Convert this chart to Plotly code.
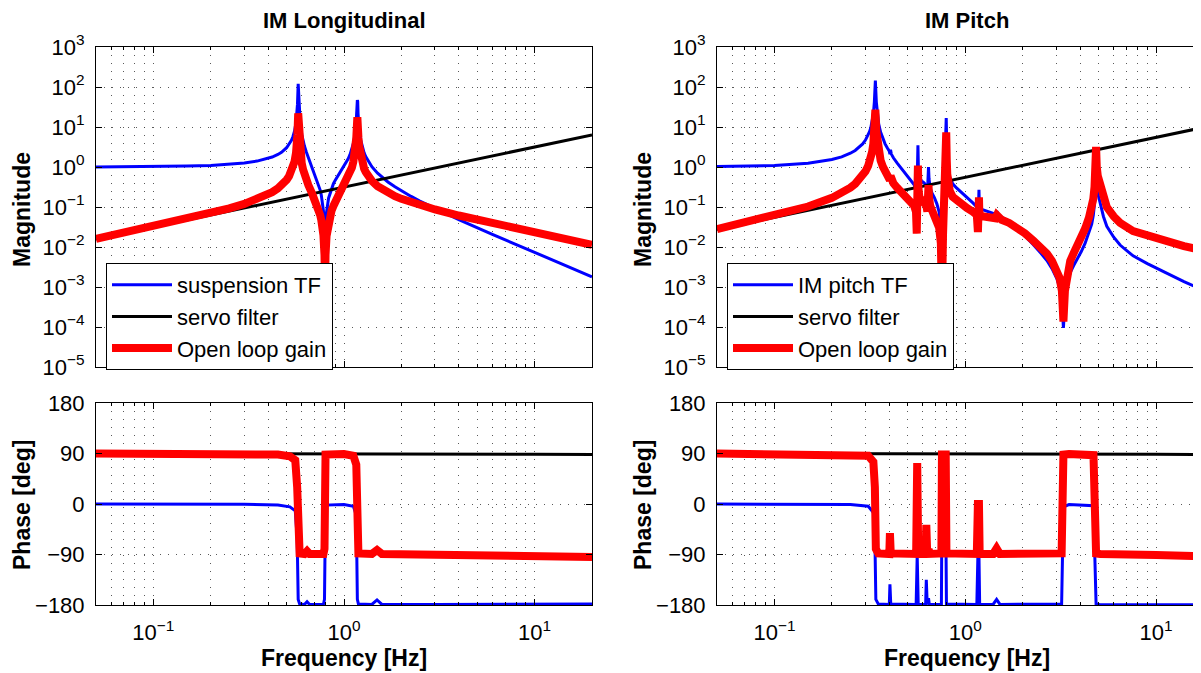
import math
import plotly.graph_objects as go

# The page body has an 8 px margin, so the figure is 1193x665 placed at (8, 8).
OFF = 8
W, H = 1201 - OFF, 673 - OFF
FONT = "Liberation Sans, Arial, Helvetica, sans-serif"

# ---------------- IM Longitudinal (left) ----------------
long_f = [0.05, 0.1, 0.15, 0.2, 0.25, 0.3, 0.35, 0.4, 0.42, 0.45, 0.47, 0.5, 0.515, 0.53, 0.54,
          0.55, 0.56, 0.565, 0.57, 0.575, 0.58, 0.585, 0.59, 0.6, 0.61, 0.62, 0.635, 0.65, 0.68,
          0.70, 0.72, 0.735, 0.75, 0.76, 0.77, 0.78, 0.79, 0.795, 0.80, 0.81, 0.83, 0.86, 0.88,
          0.9, 0.95, 0.975, 1.0, 1.05, 1.075, 1.1, 1.12, 1.13, 1.15, 1.16, 1.165, 1.17, 1.175,
          1.18, 1.185, 1.19, 1.2, 1.22, 1.25, 1.275, 1.3, 1.35, 1.4, 1.5, 1.6, 1.7, 1.85, 2.0,
          2.25, 2.5, 3.0, 4.0, 6.0, 10.0, 15.0, 20.0]
long_sus_mag = [1.005, 1.022, 1.052, 1.097, 1.164, 1.26, 1.405, 1.64, 1.772, 2.06, 2.333, 3.03, 3.632, 4.64, 5.787,
                7.85, 12.7, 18.7, 36.7, 120, 35.3, 17.4, 11.35, 6.56, 4.486, 3.34, 2.328, 1.72, 1.01,
                0.7227, 0.507, 0.3765, 0.265, 0.1981, 0.137, 0.08, 0.026, 0.004, 0.025, 0.074, 0.166, 0.296, 0.3823,
                0.47, 0.715, 0.863, 1.04, 1.58, 2.037, 2.78, 3.856, 4.75, 8.65, 14.5, 21.7, 43.7, 47,
                44, 22, 14.7, 8.86, 4.96, 3.0, 2.262, 1.82, 1.3045, 1.02, 0.70, 0.5297, 0.422, 0.3193, 0.253,
                0.1837, 0.141, 0.0915, 0.0485, 0.0207, 0.0073, 0.00324, 0.0018]
long_olg_mag = [0.0159, 0.0323, 0.0499, 0.0693, 0.092, 0.1195, 0.1554, 0.207, 0.2351, 0.292, 0.3465, 0.478, 0.591, 0.777, 0.987,
                1.364, 2.24, 3.33, 6.61, 22, 6.47, 3.22, 2.116, 1.244, 0.865, 0.654, 0.467, 0.353, 0.2176,
                0.1599, 0.1153, 0.0875, 0.0627, 0.0476, 0.0333, 0.0196, 0.0064, 0.001, 0.0064, 0.0189, 0.0435, 0.0805, 0.1063,
                0.1337, 0.2145, 0.266, 0.33, 0.525, 0.692, 0.966, 1.365, 1.696, 3.14, 5.32, 7.99, 16.2, 17.45,
                16.4, 8.24, 5.53, 3.36, 1.91, 1.185, 0.911, 0.747, 0.5565, 0.45, 0.332, 0.2678, 0.227, 0.1867, 0.16,
                0.1306, 0.111, 0.0867, 0.0612, 0.0392, 0.0231, 0.0154, 0.0114]
long_servo_f = [0.05, 0.1, 1.0, 10.0, 20.0]
long_servo_mag = [0.0158, 0.0316, 0.316, 3.16, 6.3]

long_ph_f = [0.05, 0.3, 0.45, 0.52, 0.555, 0.568, 0.575, 0.585, 0.62, 0.64, 0.66, 0.78, 0.79,
             0.795, 0.80, 1.0, 1.12, 1.16, 1.175, 1.19, 1.4, 1.49, 1.58, 3.0, 10.0, 20.0]
long_sus_ph = [0, -0.5, -2, -5, -12, -60, -170, -178, -179, -174, -179, -179, -170,
               -5, -2, -1, -4, -20, -170, -178, -179, -171, -179, -179, -178.5, -178]
long_olg_ph = [90, 89.5, 88, 85, 78, 30, -80, -88, -89, -84, -89, -89, -80,
               85, 88, 89, 86, 70, -80, -88, -89, -82, -89, -90.5, -92, -94.5]
long_servo_ph_f = [0.05, 1.0, 5.0, 10.0, 20.0]
long_servo_ph = [90, 89.9, 89.3, 88.8, 88]

# ---------------- IM Pitch (right) ----------------
pit_f = [0.05, 0.1, 0.15, 0.2, 0.225, 0.25, 0.265, 0.28, 0.29, 0.3, 0.31, 0.315, 0.32, 0.325, 0.33,
         0.334, 0.338, 0.342,
         0.346, 0.352, 0.36, 0.37, 0.38, 0.39, 0.40, 0.403, 0.406, 0.41, 0.42, 0.44, 0.46, 0.48,
         0.5, 0.52, 0.54, 0.552, 0.557, 0.562, 0.565, 0.568, 0.575, 0.59, 0.61, 0.625, 0.633,
         0.638, 0.642, 0.646, 0.655, 0.67, 0.69, 0.71, 0.73, 0.745, 0.755, 0.765, 0.775, 0.785,
         0.79, 0.795, 0.8, 0.805, 0.815, 0.83, 0.86, 0.9, 0.95, 1.02, 1.1, 1.15, 1.165, 1.175,
         1.18, 1.185, 1.2, 1.3, 1.4, 1.44, 1.465, 1.49, 1.55, 1.7, 1.866, 2.05, 2.27, 2.5, 2.68,
         2.85, 3.02, 3.12, 3.21, 3.27, 3.33, 3.41, 3.55, 3.7, 3.85, 4.05, 4.25, 4.45, 4.6, 4.69,
         4.76, 4.81, 4.85, 4.89, 4.95, 5.09, 5.3, 5.52, 6.0, 6.48, 7.58, 9.0, 11.4, 14.0, 17.2, 20.0]
pit_sus_mag = [1.022, 1.096, 1.245, 1.539, 1.796, 2.208, 2.595, 3.19, 3.789, 4.71, 6.3, 7.6, 9.6, 13.3, 21.3,
               42.5, 145, 42,
               20.9, 11.8, 7.44, 5.04, 3.79, 3.02, 2.5, 2.1, 2.7, 2.1, 1.7, 1.25, 0.95, 0.75,
               0.6, 0.46, 0.36, 0.25, 0.07, 1.0, 3.5, 1.0, 0.55, 0.45, 0.4, 0.32, 0.22,
               0.5, 1.0, 0.5, 0.3, 0.22, 0.17, 0.12, 0.075, 0.03, 0.0012, 0.05, 0.25, 1.2,
               3.5, 16.8, 3.5, 1.5, 0.8, 0.55, 0.38, 0.30, 0.24, 0.17, 0.125, 0.10, 0.037, 0.12,
               0.27, 0.12, 0.09, 0.078, 0.07, 0.066, 0.078, 0.066, 0.0563, 0.0428, 0.0302, 0.0195, 0.0116, 0.0069, 0.0046,
               0.00287, 0.00163, 0.00099, 0.00045, 0.000095, 0.00044, 0.00117, 0.0023, 0.00344, 0.0048, 0.0076, 0.0124, 0.022, 0.0375, 0.062,
               0.122, 0.30, 1.2, 0.37, 0.22, 0.129, 0.058, 0.033, 0.0176, 0.0112, 0.006, 0.00384, 0.00215, 0.00136, 0.00089, 0.00067]
pit_olg_mag = [0.0281, 0.0603, 0.1027, 0.169, 0.2222, 0.3036, 0.378, 0.491, 0.604, 0.777, 1.074, 1.317, 1.69, 2.378, 3.866,
               7.81, 27, 7.9,
               3.98, 2.285, 1.473, 1.026, 0.792, 0.648, 0.55, 0.466, 0.603, 0.474, 0.393, 0.3025, 0.240, 0.198,
               0.165, 0.1316, 0.107, 0.0759, 0.0215, 0.309, 1.09, 0.312, 0.174, 0.146, 0.134, 0.110, 0.0766,
               0.1755, 0.353, 0.1777, 0.108, 0.081, 0.0645, 0.0469, 0.0301, 0.0123, 0.0005, 0.021, 0.1066, 0.518,
               1.52, 7.34, 1.54, 0.664, 0.3586, 0.251, 0.18, 0.1485, 0.125, 0.095, 0.0756, 0.063, 0.0237, 0.0775,
               0.175, 0.078, 0.0594, 0.0558, 0.0539, 0.0523, 0.0628, 0.054, 0.048, 0.040, 0.031, 0.022, 0.0145, 0.0095, 0.0068,
               0.0045, 0.0027, 0.0017, 0.0008, 0.000137, 0.0008, 0.0022, 0.0045, 0.007, 0.0102, 0.017, 0.029, 0.054, 0.095, 0.16,
               0.32, 0.8, 3.2, 1.0, 0.6, 0.36, 0.17, 0.10, 0.058, 0.04, 0.025, 0.019, 0.0135, 0.0105, 0.0084, 0.0074]
pit_servo_f = [0.05, 0.1, 1.0, 10.0, 20.0]
pit_servo_mag = [0.0275, 0.055, 0.55, 5.5, 11.0]

pit_ph_f = [0.05, 0.25, 0.31, 0.33, 0.336, 0.34, 0.35, 0.40, 0.403, 0.407, 0.553, 0.56, 0.567,
            0.62, 0.625, 0.632, 0.642, 0.648, 0.655, 0.75, 0.755, 0.79, 0.797, 1.15, 1.165,
            1.18, 1.19, 1.4, 1.46, 1.52, 3.2, 3.27, 3.5, 4.7, 4.85, 5.1, 10.0, 17.2, 20.0]
pit_sus_ph = [0, -1, -4, -15, -60, -170, -178, -179, -143, -178, -179, -92, -179,
              -179, -135, -179, -168, -179, -179, -179, -5, -5, -178, -179, -92,
              -92, -179, -179, -170, -179, -178, -5, -1, -3, -178, -179.5, -179.7, -179.8, -179.8]
pit_olg_ph = [90, 89, 86, 75, 30, -80, -88, -89, -52, -88, -89, 73, -89,
              -89, -37, -89, -80, -89, -89, -88, 88, 88, -88, -89, 0,
              0, -89, -89, -79, -89, -88, 88, 89, 87, -88, -89, -91, -93, -93.5]
pit_servo_ph_f = [0.05, 1.0, 5.0, 10.0, 20.0]
pit_servo_ph = [90, 89.9, 89.3, 88.8, 88]

assert len(long_f) == len(long_sus_mag) == len(long_olg_mag)
assert len(pit_f) == len(pit_sus_mag) == len(pit_olg_mag)
assert len(long_ph_f) == len(long_sus_ph) == len(long_olg_ph)
assert len(pit_ph_f) == len(pit_sus_ph) == len(pit_olg_ph)

# ---------------- styling ----------------
BLUE, BLACK, RED = "#0000FF", "#000000", "#FF0000"
GRIDC = "rgba(60,60,60,0.85)"
GRIDD = "1px,7px"

fig = go.Figure()

def add_set(xa, ya_mag, ya_ph, legend, names, f, sus_mag, servo_f, servo_mag, olg_mag,
            ph_f, sus_ph, olg_ph, servo_ph_f, servo_ph):
    fig.add_trace(go.Scatter(x=f, y=sus_mag, mode="lines", name=names[0],
                             line=dict(color=BLUE, width=3), xaxis=xa[0], yaxis=ya_mag, legend=legend))
    fig.add_trace(go.Scatter(x=servo_f, y=servo_mag, mode="lines", name=names[1],
                             line=dict(color=BLACK, width=3), xaxis=xa[0], yaxis=ya_mag, legend=legend))
    fig.add_trace(go.Scatter(x=f, y=olg_mag, mode="lines", name=names[2],
                             line=dict(color=RED, width=8), xaxis=xa[0], yaxis=ya_mag, legend=legend))
    fig.add_trace(go.Scatter(x=ph_f, y=sus_ph, mode="lines", showlegend=False,
                             line=dict(color=BLUE, width=3), xaxis=xa[1], yaxis=ya_ph))
    fig.add_trace(go.Scatter(x=servo_ph_f, y=servo_ph, mode="lines", showlegend=False,
                             line=dict(color=BLACK, width=3), xaxis=xa[1], yaxis=ya_ph))
    fig.add_trace(go.Scatter(x=ph_f, y=olg_ph, mode="lines", showlegend=False,
                             line=dict(color=RED, width=8), xaxis=xa[1], yaxis=ya_ph))

add_set(("x", "x3"), "y", "y3", "legend", ["suspension TF", "servo filter", "Open loop gain"],
        long_f, long_sus_mag, long_servo_f, long_servo_mag, long_olg_mag,
        long_ph_f, long_sus_ph, long_olg_ph, long_servo_ph_f, long_servo_ph)
add_set(("x2", "x4"), "y2", "y4", "legend2", ["IM pitch TF", "servo filter", "Open loop gain"],
        pit_f, pit_sus_mag, pit_servo_f, pit_servo_mag, pit_olg_mag,
        pit_ph_f, pit_sus_ph, pit_olg_ph, pit_servo_ph_f, pit_servo_ph)

minor_vals = [d * 10 ** e for e in (-2, -1, 0, 1) for d in range(2, 10)]

def px(v):
    return (v - OFF) / W

def py(v):
    return 1 - (v - OFF) / H

common = dict(showline=True, linecolor="black", linewidth=1, ticks="inside", ticklen=6,
              tickcolor="black", tickfont=dict(family=FONT, size=22, color="black"),
              showgrid=True, gridcolor=GRIDC, griddash=GRIDD, gridwidth=1, zeroline=False,
              automargin=False)

def xaxis(dom, rng, anchor, labels, mirror):
    d = dict(common)
    d.update(type="log", domain=dom, range=rng, anchor=anchor, mirror=mirror,
             tickmode="array", tickvals=[0.1, 1, 10],
             ticktext=["10<sup>\u22121</sup>", "10<sup>0</sup>", "10<sup>1</sup>"],
             showticklabels=labels, ticklabelstandoff=8,
             minor=dict(tickmode="array", tickvals=minor_vals, ticks="inside", ticklen=3,
                        tickcolor="black", showgrid=True, gridcolor=GRIDC, griddash=GRIDD))
    return d

def yaxis_mag(dom, anchor, mirror):
    d = dict(common)
    d.update(type="log", domain=dom, range=[-5, 3], anchor=anchor, mirror=mirror,
             tickmode="array", tickvals=[10.0 ** k for k in range(-5, 4)],
             ticktext=["10<sup>%s</sup>" % (str(k).replace("-", "\u2212")) for k in range(-5, 4)],
             ticklabelstandoff=6)
    return d

def yaxis_ph(dom, anchor, mirror):
    d = dict(common)
    d.update(domain=dom, range=[-180, 180], anchor=anchor, mirror=mirror,
             tickmode="array", tickvals=[-180, -90, 0, 90, 180],
             ticktext=["\u2212180", "\u221290", "0", "90", "180"], ticklabelstandoff=6)
    return d

L_dom = [px(96), px(592)]
R_dom = [px(717), 1.0]
MAG_dom = [py(367), py(47)]
PH_dom = [py(605), py(403)]
xr = [math.log10(0.05), math.log10(20)]
xr_right = [math.log10(0.05), (1201 - 965) / 191.0]

legend_common = dict(y=py(263), xanchor="left", yanchor="top", bgcolor="white",
                     bordercolor="black", borderwidth=1,
                     font=dict(family=FONT, size=22, color="black"),
                     itemwidth=60, tracegroupgap=0)

fig.update_layout(
    width=W, height=H, margin=dict(l=0, r=0, t=0, b=0),
    paper_bgcolor="white", plot_bgcolor="white",
    font=dict(family=FONT, color="black"),
    xaxis=xaxis(L_dom, xr, "y", False, "ticks"),
    xaxis2=xaxis(R_dom, xr_right, "y2", False, "ticks"),
    xaxis3=xaxis(L_dom, xr, "y3", True, "ticks"),
    xaxis4=xaxis(R_dom, xr_right, "y4", True, "ticks"),
    yaxis=yaxis_mag(MAG_dom, "x", "ticks"),
    yaxis2=yaxis_mag(MAG_dom, "x2", False),
    yaxis3=yaxis_ph(PH_dom, "x3", "ticks"),
    yaxis4=yaxis_ph(PH_dom, "x4", False),
    legend=dict(x=px(106), **legend_common),
    legend2=dict(x=px(727), **legend_common),
    showlegend=True,
)

def ann(text, x, y, size, angle=0):
    fig.add_annotation(text=text, x=px(x), y=py(y), xref="paper", yref="paper",
                       showarrow=False, textangle=angle, xanchor="center", yanchor="middle",
                       borderpad=0, font=dict(family=FONT, size=size, color="black"))

ann("<b>IM Longitudinal</b>", 344, 21, 22)
ann("<b>IM Pitch</b>", 967, 21, 22)
ann("<b>Magnitude</b>", 22, 210, 23, -90)
ann("<b>Magnitude</b>", 643, 210, 23, -90)
ann("<b>Phase [deg]</b>", 22, 505, 23, -90)
ann("<b>Phase [deg]</b>", 643, 505, 23, -90)
ann("<b>Frequency [Hz]</b>", 344, 658, 23)
ann("<b>Frequency [Hz]</b>", 967, 658, 23)

fig.write_html("out.html")
